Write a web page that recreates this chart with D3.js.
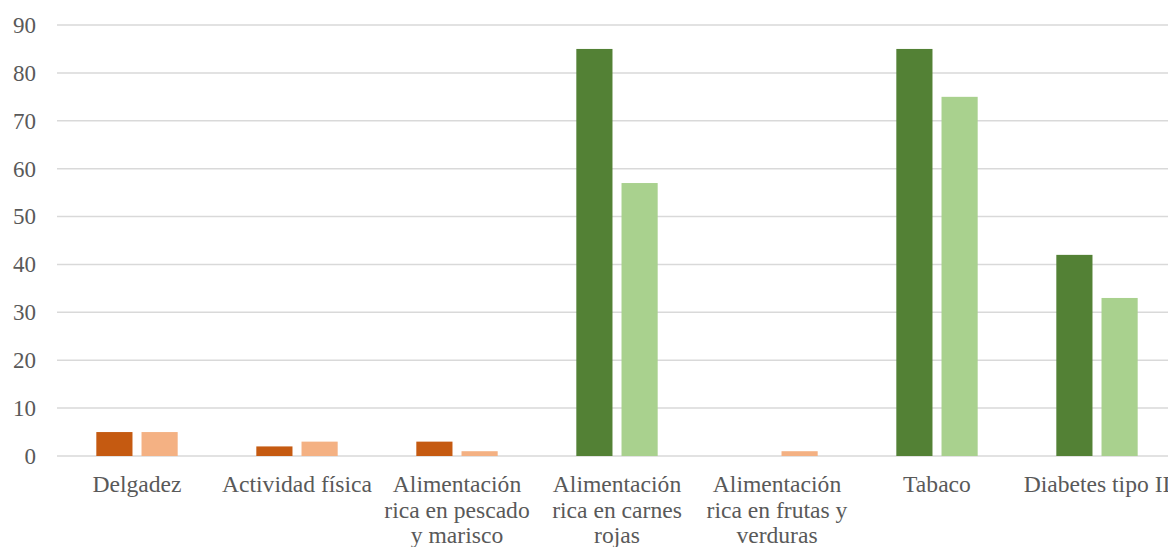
<!DOCTYPE html>
<html><head><meta charset="utf-8">
<script src="https://cdn.jsdelivr.net/npm/d3@7"></script>
<style>
html,body{margin:0;padding:0;background:#fff;overflow:hidden;}
svg{display:block;}
svg text{font-family:"Liberation Serif","Times New Roman",serif;}
</style></head>
<body>
<svg id="chart" width="1168" height="547"></svg>
<script>
const categories = ["Delgadez","Actividad física","Alimentación rica en pescado y marisco","Alimentación rica en carnes rojas","Alimentación rica en frutas y verduras","Tabaco","Diabetes tipo II"];
const series1 = [5, 2, 3, 85, 0, 85, 42];
const series2 = [5, 3, 1, 57, 1, 75, 33];
const groups = ["protector","protector","protector","riesgo","protector","riesgo","riesgo"];
const yTicks = [0,10,20,30,40,50,60,70,80,90];

const palette = {
  protector: ["#C55A11", "#F4B183"],
  riesgo: ["#538135", "#A9D18E"]
};

const svg = d3.select("#chart");
const x0 = d3.scaleBand().domain(categories).range([57, 1177]).padding(0);
const x1 = d3.scaleBand().domain([0,1]).range([0, x0.bandwidth()]).paddingInner(0.2).paddingOuter(0.87);
const y = d3.scaleLinear().domain([0, 90]).range([456, 25]);

// grid
svg.append("g").selectAll("line").data(yTicks).join("line")
  .attr("x1", 57).attr("x2", 1177)
  .attr("y1", d => y(d)).attr("y2", d => y(d))
  .attr("stroke", "#D9D9D9").attr("stroke-width", 1.5);

// y axis labels
const yAxis = d3.axisLeft(y).tickValues(yTicks).tickSize(0).tickPadding(0);
const ya = svg.append("g").attr("transform", "translate(36,0)").call(yAxis);
ya.attr("font-family", null).attr("font-size", null);
ya.select(".domain").remove();
ya.selectAll("text")
  .attr("font-size", 23).attr("fill", "#595959").attr("dy", "0.32em");

// bars
const rows = categories.map((c, i) => ({c, g: groups[i], vals: [series1[i], series2[i]]}));
const gcat = svg.append("g").selectAll("g").data(rows).join("g")
  .attr("transform", d => `translate(${x0(d.c)},0)`);
gcat.selectAll("rect").data(d => d.vals.map((v, k) => ({v, k, g: d.g}))).join("rect")
  .attr("x", d => x1(d.k))
  .attr("width", x1.bandwidth())
  .attr("y", d => y(d.v))
  .attr("height", d => y(0) - y(d.v))
  .attr("fill", d => palette[d.g][d.k]);

// x axis labels
const xAxis = d3.axisBottom(x0).tickSize(0).tickPadding(0);
const xa = svg.append("g").attr("transform", "translate(0,456)").call(xAxis);
xa.attr("font-family", null).attr("font-size", null);
xa.select(".domain").remove();
xa.selectAll("text")
  .attr("font-size", 23.6).attr("fill", "#595959")
  .attr("y", 36).attr("dy", 0)
  .each(function() {
    const t = d3.select(this);
    const words = t.text().split(/\s+/);
    t.text(null);
    let line = [];
    let lineNo = 0;
    let tspan = t.append("tspan").attr("x", 0).attr("y", 36);
    for (const w of words) {
      line.push(w);
      tspan.text(line.join(" "));
      if (tspan.node().getComputedTextLength() > 158 && line.length > 1) {
        line.pop();
        tspan.text(line.join(" "));
        line = [w];
        lineNo++;
        tspan = t.append("tspan").attr("x", 0).attr("y", 36 + lineNo * 25.5).text(w);
      }
    }
  });
</script>
</body></html>
